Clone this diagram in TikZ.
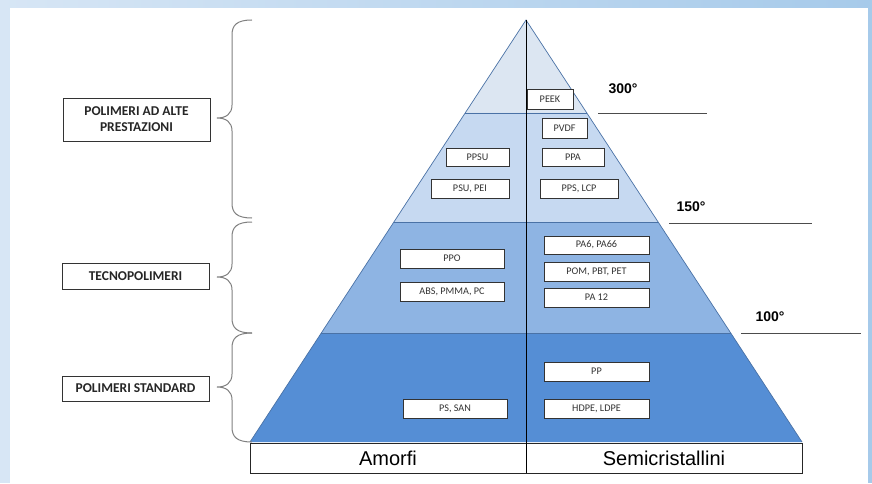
\documentclass[tikz,border=0pt]{standalone}
\usepackage{fontspec}
\setmainfont{Carlito}
\newfontfamily\arialfont{Liberation Sans}

\definecolor{bandA}{HTML}{DCE6F2}
\definecolor{bandB}{HTML}{C6D9F1}
\definecolor{bandC}{HTML}{8EB4E3}
\definecolor{bandD}{HTML}{558ED5}
\definecolor{edgeblue}{HTML}{4A72A6}
\definecolor{frameL}{HTML}{D7E6F5}
\definecolor{frameR}{HTML}{A6CAEA}

\begin{document}
\begin{tikzpicture}
	[x=1pt,y=-1pt,
	 box/.style={draw=black!80,fill=white,line width=0.8pt,inner sep=0pt,text=black!80,font=\fontsize{10.2}{12}\selectfont},
	 groupbox/.style={draw=black!80,fill=white,line width=0.8pt,inner sep=0pt,align=center,minimum width=147,text=black!85,font=\bfseries\fontsize{13.5}{16}\selectfont},
	 catbox/.style={draw=black!85,fill=white,line width=0.8pt,inner sep=0pt,minimum width=276,minimum height=30,font=\arialfont\fontsize{20}{22}\selectfont},
	 temp/.style={font=\arialfont\bfseries\fontsize{14}{16}\selectfont},
	 level/.style={draw=black!70,line width=0.9pt},
	 sep/.style={draw=edgeblue,line width=0.7pt},
	 curly/.style={draw=black!50,line width=1pt},]
	% frame
	\shade[left color=frameL,right color=frameR] (0,0) rectangle (872,482);
	\fill[white] (10,8) rectangle (868,484);
	\useasboundingbox (0,0) rectangle (872,482);
	% pyramid
	\coordinate (apex) at (526,20);
	\coordinate (l1) at (465.2,113); \coordinate (r1) at (586.8,113);
	\coordinate (l2) at (393.9,222); \coordinate (r2) at (658.1,222);
	\coordinate (l3) at (321.2,333); \coordinate (r3) at (730.8,333);
	\coordinate (l4) at (250,442);   \coordinate (r4) at (802,442);
	\fill[bandA] (apex) -- (r1) -- (l1) -- cycle;
	\fill[bandB] (l1) -- (r1) -- (r2) -- (l2) -- cycle;
	\fill[bandC] (l2) -- (r2) -- (r3) -- (l3) -- cycle;
	\fill[bandD] (l3) -- (r3) -- (r4) -- (l4) -- cycle;
	\draw[sep] (l1) -- (r1) (l2) -- (r2) (l3) -- (r3);
	\draw[sep] (l4) -- (apex) -- (r4);
	% columns
	\node (amorfi) at (388,458)[catbox]{Amorfi};
	\node (semi) at (664,458)[catbox]{Semicristallini};
	\draw[line width=0.8pt] (apex) -- (526,473);
	% polymers
	\node (peek) at (550,99)[box,minimum width=46,minimum height=20]{PEEK};
	\node (pvdf) at (564.5,128)[box,minimum width=45,minimum height=20]{PVDF};
	\node (ppsu) at (477.5,157)[box,minimum width=63,minimum height=18]{PPSU};
	\node (ppa) at (573,157)[box,minimum width=62,minimum height=18]{PPA};
	\node (psu) at (470,188.5)[box,minimum width=78,minimum height=19]{PSU, PEI};
	\node (pps) at (579,188.5)[box,minimum width=78,minimum height=19]{PPS, LCP};
	\node (ppo) at (452,258.5)[box,minimum width=104,minimum height=19]{PPO};
	\node (abs) at (452,291.5)[box,minimum width=104,minimum height=19]{ABS, PMMA, PC};
	\node (pa6) at (596.5,245)[box,minimum width=105,minimum height=18]{PA6, PA66};
	\node (pom) at (596.5,271.5)[box,minimum width=105,minimum height=19]{POM, PBT, PET};
	\node (pa12) at (596.5,297.5)[box,minimum width=105,minimum height=19]{PA 12};
	\node (pp) at (596.5,371.5)[box,minimum width=105,minimum height=19]{PP};
	\node (hdpe) at (596.5,408.5)[box,minimum width=105,minimum height=19]{HDPE, LDPE};
	\node (ps) at (455,408.5)[box,minimum width=104,minimum height=19]{PS, SAN};
	% temperatures
	\node (t300) at (623,89)[temp]{300°};
	\node (t150) at (691,207)[temp]{150°};
	\node (t100) at (770,317)[temp]{100°};
	\coordinate (h300a) at (598,113); \coordinate (h300b) at (707,113);
	\coordinate (h150a) at (669,223); \coordinate (h150b) at (812,223);
	\coordinate (h100a) at (741,333); \coordinate (h100b) at (861,333);
	\draw[level] (h300a) -- (h300b) (h150a) -- (h150b) (h100a) -- (h100b);
	% groups
	\node (alte) at (136.5,119.5)[groupbox,minimum height=43]{POLIMERI AD ALTE\\PRESTAZIONI};
	\node (tecno) at (135.5,276)[groupbox,minimum height=26]{TECNOPOLIMERI};
	\node (std) at (135.5,388.5)[groupbox,minimum height=25]{POLIMERI STANDARD};
	\foreach \yt/\ym/\yb in {20/118/218, 222/277/333, 333/387/442}
		\draw[curly] (252,\yt) .. controls (237,\yt) and (232,\yt+5) .. (232,\yt+15)
			-- (232,\ym-13) .. controls (232,\ym-4) and (226,\ym) .. (217,\ym)
			.. controls (226,\ym) and (232,\ym+4) .. (232,\ym+13)
			-- (232,\yb-15) .. controls (232,\yb-5) and (237,\yb) .. (252,\yb);
	
\end{tikzpicture}
\end{document}
